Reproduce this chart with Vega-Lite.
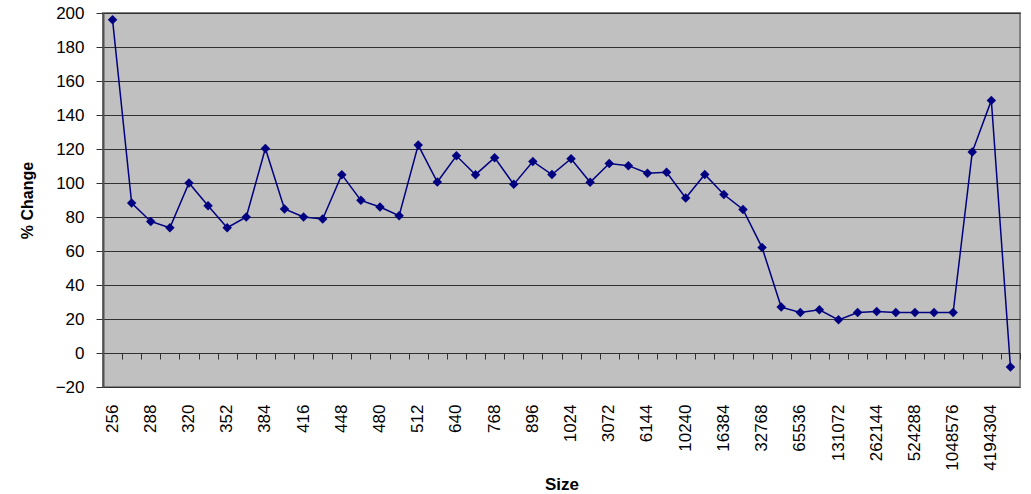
{
  "$schema": "https://vega.github.io/schema/vega-lite/v6.json",
  "width": 917,
  "height": 374,
  "autosize": "none",
  "padding": {"left": 103, "top": 13, "right": 11, "bottom": 107},
  "background": "white",
  "config": {
    "view": {"fill": "#C0C0C0", "stroke": "#808080", "strokeWidth": 2},
    "font": "Liberation Sans"
  },
  "data": {
    "values": [
      {"size": "256", "change": 196},
      {"size": "272", "change": 88.2},
      {"size": "288", "change": 77.4},
      {"size": "304", "change": 73.7},
      {"size": "320", "change": 100},
      {"size": "336", "change": 86.6},
      {"size": "352", "change": 73.7},
      {"size": "368", "change": 80},
      {"size": "384", "change": 120.3},
      {"size": "400", "change": 84.7},
      {"size": "416", "change": 80},
      {"size": "432", "change": 78.8},
      {"size": "448", "change": 104.9},
      {"size": "464", "change": 89.8},
      {"size": "480", "change": 85.9},
      {"size": "496", "change": 80.8},
      {"size": "512", "change": 122.3},
      {"size": "576", "change": 100.6},
      {"size": "640", "change": 116},
      {"size": "704", "change": 104.9},
      {"size": "768", "change": 114.9},
      {"size": "832", "change": 99.2},
      {"size": "896", "change": 112.7},
      {"size": "960", "change": 105},
      {"size": "1024", "change": 114.3},
      {"size": "2048", "change": 100.4},
      {"size": "3072", "change": 111.5},
      {"size": "4096", "change": 110.2},
      {"size": "6144", "change": 105.7},
      {"size": "8192", "change": 106.3},
      {"size": "10240", "change": 91.2},
      {"size": "12288", "change": 105},
      {"size": "16384", "change": 93.2},
      {"size": "24576", "change": 84.4},
      {"size": "32768", "change": 62},
      {"size": "49152", "change": 27},
      {"size": "65536", "change": 23.8},
      {"size": "98304", "change": 25.4},
      {"size": "131072", "change": 19.5},
      {"size": "196608", "change": 23.8},
      {"size": "262144", "change": 24.4},
      {"size": "393216", "change": 23.8},
      {"size": "524288", "change": 23.8},
      {"size": "786432", "change": 23.8},
      {"size": "1048576", "change": 23.8},
      {"size": "2097152", "change": 118.2},
      {"size": "4194304", "change": 148.6},
      {"size": "8388608", "change": -8.3}
    ]
  },
  "resolve": {"axis": {"x": "independent"}},
  "layer": [
    {
      "mark": {"type": "line", "color": "#000080", "strokeWidth": 1.5},
      "encoding": {
        "x": {
          "field": "size",
          "type": "ordinal",
          "sort": null,
          "bandPosition": 0.5,
          "scale": {"type": "band", "paddingInner": 0, "paddingOuter": 0},
          "axis": {
            "orient": "bottom",
            "values": ["256","288","320","352","384","416","448","480","512","640","768","896","1024","3072","6144","10240","16384","32768","65536","131072","262144","524288","1048576","4194304"],
            "ticks": false,
            "domain": false,
            "grid": false,
            "labelAngle": -90,
            "labelPadding": 17,
            "labelFontSize": 17,
            "labelColor": "#000000",
            "labelFont": "Liberation Sans",
            "labelOverlap": false,
            "title": "Size",
            "titleFont": "Liberation Sans",
            "titleFontSize": 17,
            "titleFontWeight": "bold",
            "titleColor": "#000000",
            "titlePadding": 6
          }
        },
        "y": {
          "field": "change",
          "type": "quantitative",
          "scale": {"domain": [-20, 200], "nice": false, "zero": false},
          "axis": {
            "values": [-20, 0, 20, 40, 60, 80, 100, 120, 140, 160, 180, 200],
            "tickCount": 20,
            "labelOverlap": false,
            "labelFlush": false,
            "grid": true,
            "gridColor": "#303030",
            "gridWidth": 1,
            "gridOpacity": 1,
            "domain": true,
            "domainColor": "#505050",
            "domainWidth": 2,
            "ticks": true,
            "tickSize": 7,
            "tickColor": "#303030",
            "labelPadding": 12,
            "labelFontSize": 17,
            "labelColor": "#000000",
            "labelFont": "Liberation Sans",
            "title": "% Change",
            "titleFont": "Liberation Sans",
            "titleFontSize": 16,
            "titleFontWeight": "bold",
            "titleColor": "#000000",
            "titlePadding": 20
          }
        }
      }
    },
    {
      "mark": {"type": "point", "shape": "diamond", "filled": true, "color": "#000080", "size": 90, "opacity": 1},
      "encoding": {
        "x": {
          "field": "size",
          "type": "ordinal",
          "sort": null,
          "bandPosition": 0.5,
          "axis": {
            "orient": "bottom",
            "offset": -34,
            "labels": false,
            "title": null,
            "grid": false,
            "domain": true,
            "domainColor": "#303030",
            "domainWidth": 1,
            "ticks": true,
            "tickBand": "extent",
            "tickSize": 6,
            "tickColor": "#303030",
            "tickWidth": 1
          }
        },
        "y": {"field": "change", "type": "quantitative"}
      }
    }
  ]
}
